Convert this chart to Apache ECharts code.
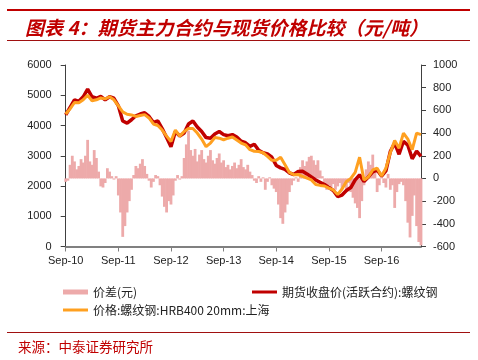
<!DOCTYPE html>
<html>
<head>
<meta charset="utf-8">
<script src="https://cdn.jsdelivr.net/npm/echarts@6/dist/echarts.min.js"></script>
<style>
html,body{margin:0;padding:0;background:#fff;}
#main{width:478px;height:360px;}
</style>
</head>
<body>
<div id="main"></div>
<script>
// x values are months since Sep-2010
var xTickLabels = ['Sep-10','Sep-11','Sep-12','Sep-13','Sep-14','Sep-15','Sep-16'];
var priceStep = 1;     // monthly samples
var spreadStep = 0.5;  // half-month samples

var futures = [
  4350,4600,4850,4800,4950,5200,4950,4900,4960,4850,4950,4900,
  4650,4150,4080,4190,4320,4380,4420,4300,4100,4150,3900,3600,
  3300,3800,3650,3750,4050,4150,3950,3800,3600,3580,3720,3800,
  3700,3660,3700,3620,3480,3430,3310,3380,3180,3100,3060,2950,
  2680,2600,2550,2430,2380,2480,2490,2400,2300,2200,2120,2050,
  1950,1850,1650,1700,1850,1950,2200,2370,2150,2300,2470,2530,
  2330,2500,3140,3420,3050,3480,3350,2900,3150,2980
];
var spot = [
  4380,4550,4760,4750,4850,5000,4820,4850,4910,4880,4950,4850,
  4650,4450,4370,4350,4300,4330,4360,4250,4050,4000,3850,3650,
  3470,3850,3650,3800,3900,3900,3750,3550,3300,3420,3600,3580,
  3530,3580,3620,3520,3420,3360,3200,3150,3140,3100,2980,2850,
  2850,2950,2700,2450,2370,2380,2320,2260,2200,2050,2020,2000,
  1930,1870,1720,1900,2150,2250,2450,2950,2200,2300,2530,2590,
  2330,2590,3100,3500,3250,3750,3550,3200,3750,3700
];
var spread = [
  -30,-20,120,200,150,80,110,170,140,200,340,150,120,250,180,60,-70,-80,-40,90,60,20,-10,20,
  -150,-300,-515,-420,-300,-200,-100,30,110,90,130,170,110,40,-20,-80,-30,30,20,-60,-160,-250,-300,-200,
  -230,-150,-20,30,-10,20,180,300,420,250,200,260,150,210,250,170,140,200,250,160,130,180,220,140,
  160,100,120,80,110,140,90,120,170,100,80,120,60,30,-20,-40,20,-30,10,-100,-30,10,-60,-90,
  -120,-230,-350,-400,-300,-230,-120,-60,-20,10,-30,100,160,110,150,190,200,160,120,160,70,20,-60,-100,
  -60,-90,-50,-100,-70,-40,-90,-60,-100,-40,-120,-170,-220,-260,-350,-200,-60,80,150,120,210,60,-120,-60,
  20,-40,-80,40,-100,-60,-260,-120,-50,-30,-60,-200,-390,-520,-330,-150,-420,-560,-590
];
var names = ['价差(元)', '期货收盘价(活跃合约):螺纹钢', '价格:螺纹钢:HRB400 20mm:上海'];

function pairs(arr, step){ return arr.map(function(v,i){ return [i*step, v]; }); }

var chart = echarts.init(document.getElementById('main'), null, {renderer:'canvas'});
var axisFont = {fontSize:11, color:'#222', fontFamily:'Arial, Liberation Sans, sans-serif'};
function plain(v){ return String(v); }
chart.setOption({
  animation:false,
  backgroundColor:'#fff',
  title:{
    text:'图表 4：期货主力合约与现货价格比较（元/吨）',
    left:20, top:13,
    textStyle:{fontSize:19, fontStyle:'italic', fontWeight:'bold', color:'#C00000', fontFamily:'Noto Sans CJK SC'}
  },
  graphic:[
    {type:'line', shape:{x1:7,y1:10,x2:470,y2:10}, style:{stroke:'#C00000', lineWidth:2}},
    {type:'line', shape:{x1:7,y1:40.5,x2:470,y2:40.5}, style:{stroke:'#A01010', lineWidth:1}},
    {type:'line', shape:{x1:7,y1:332.5,x2:470,y2:332.5}, style:{stroke:'#A01010', lineWidth:1}},
    {type:'text', left:18, top:340, style:{text:'来源：中泰证券研究所', fontSize:13.5, fill:'#C00000', fontFamily:'Noto Sans CJK SC'}}
  ],
  legend:[
    {left:58, top:281, itemWidth:25, itemHeight:5, itemGap:10, data:[{name:names[0], icon:'rect'}],
     textStyle:{fontSize:12, color:'#222', fontFamily:'Noto Sans CJK SC'}},
    {left:247, top:281, itemWidth:25, itemHeight:3, data:[{name:names[1], icon:'rect'}],
     textStyle:{fontSize:12, color:'#222', fontFamily:'Noto Sans CJK SC'}},
    {left:58, top:299, itemWidth:25, itemHeight:3, data:[{name:names[2], icon:'rect'}],
     textStyle:{fontSize:12, color:'#222', fontFamily:'Noto Sans CJK SC'}}
  ],
  grid:{left:65.7, right:57, top:65, bottom:113.5},
  xAxis:{
    type:'value', min:0, max:81, interval:12,
    axisLine:{lineStyle:{color:'#808080', width:2}},
    axisTick:{show:true, length:5, lineStyle:{color:'#808080'}},
    splitLine:{show:false},
    axisLabel:Object.assign({margin:9, showMaxLabel:false, formatter:function(v){ return xTickLabels[Math.round(v/12)] || ''; }}, axisFont)
  },
  yAxis:[
    {type:'value', min:0, max:6000, interval:1000, position:'left',
     axisLine:{show:true, lineStyle:{color:'#404040'}},
     axisTick:{show:true, length:5, lineStyle:{color:'#404040'}},
     splitLine:{show:false},
     axisLabel:Object.assign({margin:14, formatter:plain}, axisFont)},
    {type:'value', min:-600, max:1000, interval:200, position:'right',
     axisLine:{show:true, lineStyle:{color:'#404040'}},
     axisTick:{show:true, length:5, lineStyle:{color:'#404040'}},
     splitLine:{show:false},
     axisLabel:Object.assign({margin:12, formatter:plain}, axisFont)}
  ],
  series:[
    {name:names[0], type:'bar', yAxisIndex:1, barWidth:2.8, data:pairs(spread, spreadStep),
     itemStyle:{color:'#EDAAAA'}},
    {name:names[1], type:'line', yAxisIndex:0, showSymbol:false, symbol:'none', data:pairs(futures, priceStep),
     lineStyle:{color:'#C00000', width:3.5}, itemStyle:{color:'#C00000'}},
    {name:names[2], type:'line', yAxisIndex:0, showSymbol:false, symbol:'none', data:pairs(spot, priceStep),
     lineStyle:{color:'#FFA020', width:3}, itemStyle:{color:'#FFA020'}}
  ]
});
</script>
</body>
</html>
